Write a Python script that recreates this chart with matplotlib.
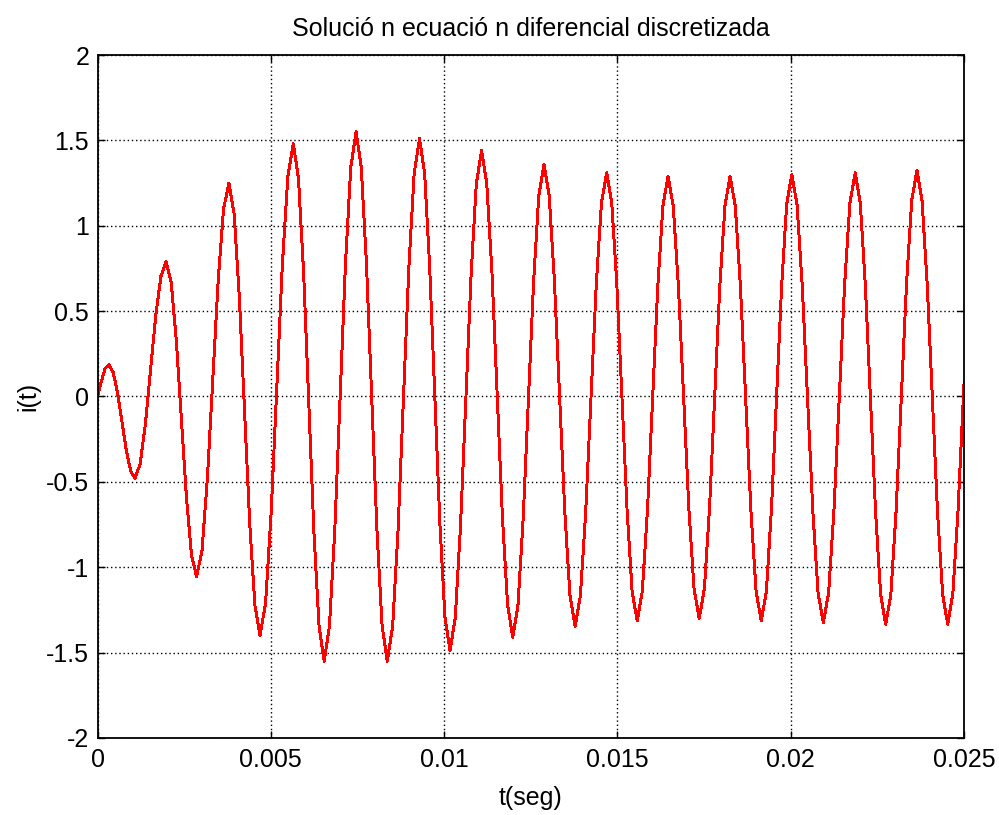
import matplotlib
matplotlib.use('Agg')
import matplotlib.pyplot as plt

# datos: tiempo (s) y corriente i(t)
# (picos, valles y puntos intermedios de cada medio ciclo)
t_data = [
    0.0, 0.00012, 0.00022, 0.00033,
    0.000455, 0.00058, 0.000705, 0.00083, 0.000955, 0.00108,
    0.00123, 0.00138, 0.00153, 0.00168, 0.00183, 0.00198,
    0.002127, 0.002273, 0.00242, 0.002567, 0.002713, 0.00286,
    0.003015, 0.00317, 0.003325, 0.00348, 0.003635, 0.00379,
    0.00394, 0.00409, 0.00424, 0.00439, 0.00454, 0.00469,
    0.00485, 0.00501, 0.00517, 0.00533, 0.00549, 0.00565,
    0.005798, 0.005947, 0.006095, 0.006243, 0.006392, 0.00654,
    0.006693, 0.006847, 0.007, 0.007153, 0.007307, 0.00746,
    0.00761, 0.00776, 0.00791, 0.00806, 0.00821, 0.00836,
    0.008515, 0.00867, 0.008825, 0.00898, 0.009135, 0.00929,
    0.009437, 0.009583, 0.00973, 0.009877, 0.010023, 0.01017,
    0.010322, 0.010473, 0.010625, 0.010777, 0.010928, 0.01108,
    0.01123, 0.01138, 0.01153, 0.01168, 0.01183, 0.01198,
    0.01213, 0.01228, 0.01243, 0.01258, 0.01273, 0.01288,
    0.01303, 0.01318, 0.01333, 0.01348, 0.01363, 0.01378,
    0.013932, 0.014083, 0.014235, 0.014387, 0.014538, 0.01469,
    0.014837, 0.014983, 0.01513, 0.015277, 0.015423, 0.01557,
    0.015718, 0.015867, 0.016015, 0.016163, 0.016312, 0.01646,
    0.01661, 0.01676, 0.01691, 0.01706, 0.01721, 0.01736,
    0.017508, 0.017657, 0.017805, 0.017953, 0.018102, 0.01825,
    0.0184, 0.01855, 0.0187, 0.01885, 0.019, 0.01915,
    0.019297, 0.019443, 0.01959, 0.019737, 0.019883, 0.02003,
    0.020182, 0.020333, 0.020485, 0.020637, 0.020788, 0.02094,
    0.021093, 0.021247, 0.0214, 0.021553, 0.021707, 0.02186,
    0.022007, 0.022153, 0.0223, 0.022447, 0.022593, 0.02274,
    0.02289, 0.02304, 0.02319, 0.02334, 0.02349, 0.02364,
    0.023788, 0.023937, 0.024085, 0.024233, 0.024382, 0.02453,
    0.024678, 0.024827, 0.025,
]
i_data = [
    0.0, 0.095, 0.165, 0.185,
    0.140, 0.019, -0.148, -0.314, -0.435, -0.48,
    -0.395, -0.163, 0.155, 0.473, 0.705, 0.79,
    0.666, 0.329, -0.133, -0.594, -0.931, -1.055,
    -0.901, -0.479, 0.098, 0.674, 1.096, 1.25,
    1.072, 0.588, -0.075, -0.738, -1.222, -1.40,
    -1.207, -0.68, 0.04, 0.76, 1.287, 1.48,
    1.277, 0.723, -0.035, -0.793, -1.347, -1.55,
    -1.342, -0.775, 0.0, 0.775, 1.342, 1.55,
    1.342, 0.775, 0.0, -0.775, -1.342, -1.55,
    -1.345, -0.785, -0.02, 0.745, 1.305, 1.51,
    1.309, 0.76, 0.01, -0.74, -1.289, -1.49,
    -1.294, -0.758, -0.025, 0.708, 1.244, 1.44,
    1.249, 0.728, 0.015, -0.698, -1.219, -1.41,
    -1.224, -0.718, -0.025, 0.668, 1.174, 1.36,
    1.179, 0.684, 0.008, -0.669, -1.164, -1.345,
    -1.167, -0.681, -0.018, 0.646, 1.132, 1.31,
    1.134, 0.654, -0.003, -0.659, -1.139, -1.315,
    -1.140, -0.664, -0.013, 0.639, 1.115, 1.29,
    1.116, 0.643, -0.005, -0.653, -1.126, -1.30,
    -1.126, -0.653, -0.005, 0.643, 1.116, 1.29,
    1.115, 0.639, -0.013, -0.664, -1.140, -1.315,
    -1.140, -0.661, -0.008, 0.646, 1.125, 1.30,
    1.124, 0.644, -0.013, -0.669, -1.149, -1.325,
    -1.149, -0.666, -0.008, 0.651, 1.134, 1.31,
    1.133, 0.649, -0.013, -0.674, -1.158, -1.335,
    -1.157, -0.67, -0.005, 0.66, 1.147, 1.325,
    1.147, 0.66, -0.005, -0.67, -1.157, -1.335,
    -1.15, -0.665, 0.08,
]

x_ticks = [0, 0.005, 0.01, 0.015, 0.02, 0.025]
x_labels = ['0', '0.005', '0.01', '0.015', '0.02', '0.025']
y_ticks = [-2, -1.5, -1, -0.5, 0, 0.5, 1, 1.5, 2]
y_labels = ['-2', '-1.5', '-1', '-0.5', '0', '0.5', '1', '1.5', '2']

plt.rcParams['font.family'] = ['Liberation Sans', 'DejaVu Sans']

fig = plt.figure(figsize=(9.99, 8.15), dpi=100)
ax = fig.add_axes([0.0976, 0.0945, 0.8674, 0.838])

ax.plot(t_data, i_data, color='red', linewidth=1.4, antialiased=False)

ax.set_xlim(0, 0.025)
ax.set_ylim(-2, 2)
ax.set_xticks(x_ticks)
ax.set_xticklabels(x_labels)
ax.set_yticks(y_ticks)
ax.set_yticklabels(y_labels)

ax.grid(True, color='black', linestyle=(0, (1, 2)), linewidth=1.0)
ax.tick_params(axis='both', direction='in', length=5, width=1,
               top=True, right=True, labelsize=18, colors='black')
ax.tick_params(axis='x', pad=7)
ax.tick_params(axis='y', pad=6)
for s in ax.spines.values():
    s.set_linewidth(1.3)

ax.set_title('Solució n ecuació n diferencial discretizada', fontsize=18, pad=14)
ax.set_xlabel('t(seg)', fontsize=18, labelpad=10)
ax.set_ylabel('i(t)', fontsize=18, labelpad=4)

plt.savefig('out.png', dpi=100)
